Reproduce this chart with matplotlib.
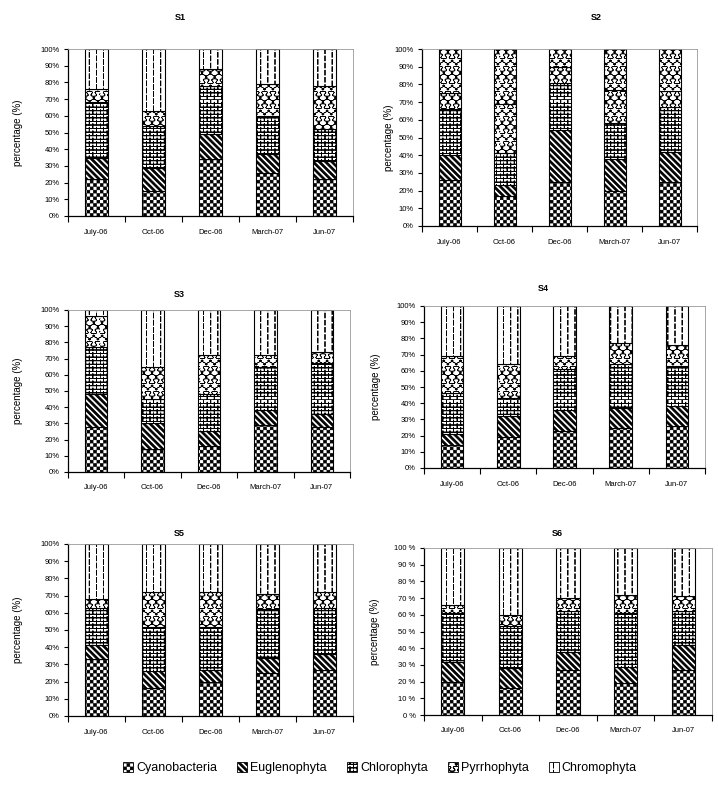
import numpy as np
import matplotlib
matplotlib.use("Agg")
import matplotlib.pyplot as plt
import matplotlib.hatch as mhatch
from matplotlib.path import Path
from matplotlib.patches import Patch

plt.rcParams['font.family'] = ['Liberation Sans', 'DejaVu Sans']
plt.rcParams['hatch.linewidth'] = 0.6
plt.rcParams['hatch.color'] = 'black'

# ---------------- data ----------------
months = ["July-06", "Oct-06", "Dec-06", "March-07", "Jun-07"]
sites = ["S1", "S2", "S3", "S4", "S5", "S6"]
taxa = ["Cyanobacteria", "Euglenophyta", "Chlorophyta", "Pyrrhophyta", "Chromophyta"]

cyanobacteria = [[22, 15, 34, 26, 22], [26, 17, 25, 20, 25], [28, 14, 16, 29, 28],
                 [14, 19, 23, 25, 26], [33, 16, 20, 25, 27], [20, 16, 27, 19, 27]]
euglenophyta = [[13, 14, 15, 11, 11], [14, 6, 29, 18, 17], [20, 16, 9, 9, 8],
                [7, 13, 13, 12, 12], [8, 10, 7, 9, 9], [12, 12, 11, 10, 15]]
chlorophyta = [[33, 25, 29, 23, 19], [26, 18, 27, 20, 25], [29, 15, 23, 27, 31],
               [25, 11, 25, 27, 25], [22, 26, 25, 28, 27], [29, 25, 24, 32, 20]]
pyrrhophyta = [[8, 9, 10, 19, 26], [9, 28, 9, 19, 9], [19, 20, 24, 7, 7],
               [23, 21, 8, 13, 13], [5, 20, 20, 9, 9], [5, 7, 8, 11, 9]]
chromophyta = [[24, 37, 12, 21, 22], [25, 31, 10, 23, 24], [4, 35, 28, 28, 26],
               [31, 36, 31, 23, 24], [32, 28, 28, 29, 28], [34, 40, 30, 28, 29]]

series = [cyanobacteria, euglenophyta, chlorophyta, pyrrhophyta, chromophyta]


# ---------------- custom hatch patterns ----------------
class _Custom(mhatch.HatchPatternBase):
    char = None

    def __init__(self, hatch, density):
        if self.char in hatch:
            v, c = self.build()
        else:
            v = np.empty((0, 2))
            c = np.empty(0, dtype=Path.code_type)
        self._v = np.asarray(v, float)
        self._c = np.asarray(c, dtype=Path.code_type)
        self.num_vertices = len(self._v)

    def set_vertices_and_codes(self, vertices, codes):
        vertices[:] = self._v
        codes[:] = self._c


def _poly(pts):
    pts = list(pts) + [pts[0]]
    codes = [Path.MOVETO] + [Path.LINETO] * (len(pts) - 2) + [Path.CLOSEPOLY]
    return pts, codes


def _line_fb(pts):
    # forward then backward (zero-area so the fill does nothing)
    pts = list(pts)
    allp = pts + pts[::-1][1:]
    codes = [Path.MOVETO] + [Path.LINETO] * (len(allp) - 1)
    return allp, codes


class Checker(_Custom):
    char = 'x'

    def build(self):
        n = 30
        f = 0.80
        h = 0.5 / n * f
        V, C = [], []
        for i in range(n):
            for j in range(n):
                if (i + j) % 2 == 0:
                    cx, cy = (i + 0.5) / n, (j + 0.5) / n
                    p, c = _poly([(cx - h, cy - h), (cx + h, cy - h),
                                  (cx + h, cy + h), (cx - h, cy + h)])
                    V += p
                    C += c
        return V, C


class Diag(_Custom):
    char = '\\'

    def build(self):
        n = 16
        d = 0.026
        V, C = [], []
        x0, x1 = -0.3, 1.3
        for k in range(-8, 3 * n + 8):
            c = k / n
            p, cc = _poly([(x0, c - x0), (x1, c - x1), (x1, c + d - x1), (x0, c + d - x0)])
            V += p
            C += cc
        return V, C


class Brick(_Custom):
    char = '+'

    def build(self):
        R, Cn = 28, 14
        V, C = [], []
        for j in range(R):
            y = j / R
            p, c = _line_fb([(0, y), (1, y)])
            V += p
            C += c
            for i in range(Cn):
                x = (i + 0.5 * (j % 2)) / Cn
                p, c = _line_fb([(x, y), (x, y + 1 / R)])
                V += p
                C += c
        return V, C


class Wave(_Custom):
    char = 'o'

    def build(self):
        R, Cn = 16, 12
        s = 1 / R
        A = 0.40 * s
        V, C = [], []
        xs = np.linspace(0, 1, Cn * 12 + 1)
        for j in range(R + 1):
            sign = 1 if j % 2 == 0 else -1
            th = 2 * np.pi * Cn * xs
            ys = j * s + sign * A * np.sin(th)
            xx = xs + 0.22 / Cn * np.sin(2 * th) * sign
            p, c = _line_fb(list(zip(xx, ys)))
            V += p
            C += c
        return V, C


class Dash(_Custom):
    char = '|'

    def build(self):
        Cn, R = 14, 14
        L = 0.48 / R
        V, C = [], []
        for i in range(Cn):
            x = (i + 0.5) / Cn
            off = 0.5 / R if i % 2 else 0.0
            for j in range(-1, R + 1):
                y = j / R + off
                p, c = _line_fb([(x, y), (x, y + L)])
                V += p
                C += c
        return V, C


mhatch._hatch_types = [Checker, Diag, Brick, Wave, Dash]

hatches = ['x', '\\', '+', 'o', '|']

# ---------------- layout (pixels in a 718 x 792 figure) ----------------
W, H = 718, 792
axes_px = [  # left, top, right, bottom
    (68, 49, 353, 216),
    (422, 49, 697, 226),
    (68, 310, 350, 472),
    (424, 306, 705, 468),
    (68, 544, 353, 716),
    (424, 548, 712, 715),
]
title_px = [(180, 18), (596, 18), (179, 295), (543, 289), (179, 534), (557, 533)]
ylabel_px = [18, 389, 18, 376, 18, 375]

fig = plt.figure(figsize=(W / 100, H / 100), dpi=100)

x = np.arange(1, len(months) + 1)

for k, site in enumerate(sites):
    l, t, r, b = axes_px[k]
    ax = fig.add_axes([l / W, 1 - b / H, (r - l) / W, (b - t) / H])
    bottom = np.zeros(len(months))
    for si, data in enumerate(series):
        vals = np.array(data[k], float)
        htch = hatches[si]
        if site == "S2" and si == 4:
            htch = 'o'
        bars = ax.bar(x, vals, width=0.4, bottom=bottom, color='white',
                      edgecolor='black', linewidth=0.8, hatch=htch, zorder=2)
        if htch == 'o':
            for p in bars:
                if hasattr(p, 'set_hatch_linewidth'):
                    p.set_hatch_linewidth(0.45)
        bottom += vals
    ax.set_xlim(0.5, 5.5)
    ax.set_ylim(0, 100)
    yt = np.arange(0, 101, 10)
    ax.set_yticks(yt)
    if site == "S6":
        ax.set_yticklabels([f"{v} %" for v in yt])
    else:
        ax.set_yticklabels([f"{v}%" for v in yt])
    ax.set_xticks(np.arange(0.5, 6, 1.0))
    ax.set_xticklabels([])
    ax.set_xticks(x, minor=True)
    ax.set_xticklabels(months, minor=True)
    ax.tick_params(axis='x', which='major', direction='out', length=4, width=0.8)
    ax.tick_params(axis='x', which='minor', length=0, pad=9, labelsize=5.5)
    ax.tick_params(axis='y', direction='out', length=3, width=0.8, pad=3, labelsize=5.5)
    for side in ['left', 'bottom']:
        ax.spines[side].set_linewidth(0.9)
        ax.spines[side].set_color('black')
    for side in ['top', 'right']:
        ax.spines[side].set_linewidth(0.6)
        ax.spines[side].set_color('#999999')
    tx, ty = title_px[k]
    fig.text(tx / W, 1 - ty / H, site, ha='center', va='center', fontsize=6.5,
             fontweight='bold')
    fig.text(ylabel_px[k] / W, 1 - ((t + b) / 2) / H, "percentage (%)", rotation=90,
             ha='center', va='center', fontsize=7)

handles = [Patch(facecolor='white', edgecolor='black', linewidth=0.6, hatch=h)
           for h in hatches]
fig.legend(handles, taxa, loc='center', bbox_to_anchor=(380 / W, 1 - 768 / H),
           ncol=5, frameon=False, fontsize=9, handlelength=0.8, handleheight=0.8,
           handletextpad=0.25, columnspacing=1.6)

fig.savefig("out.png", dpi=100)
